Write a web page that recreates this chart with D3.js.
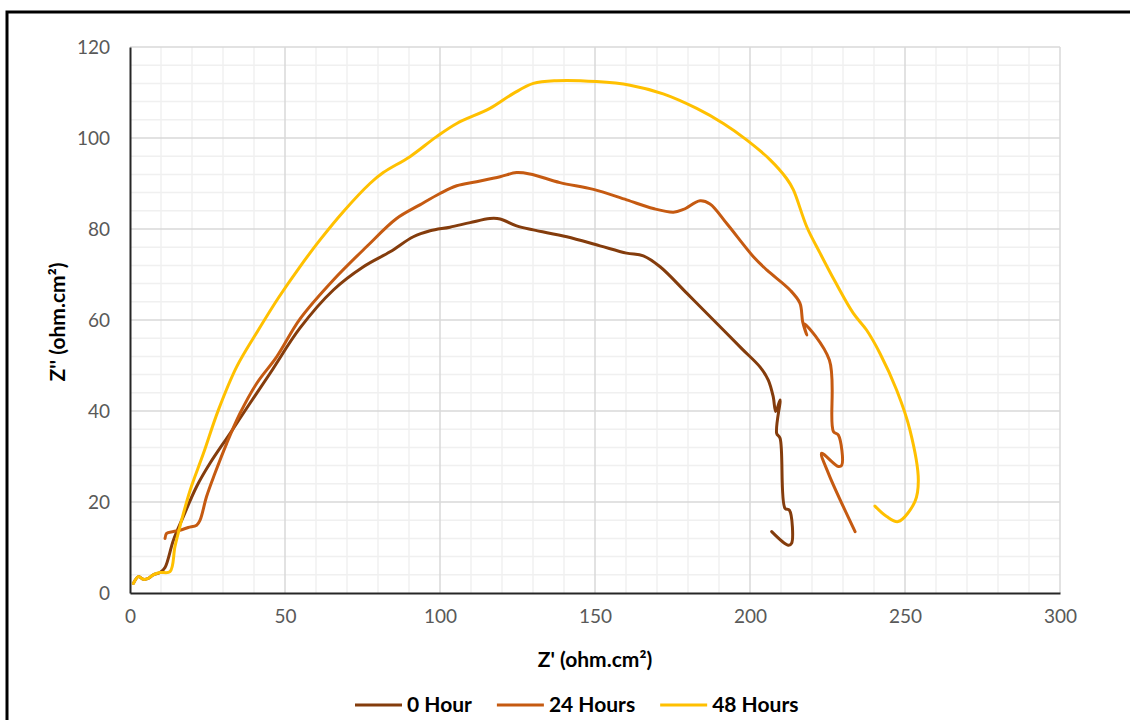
<!DOCTYPE html>
<html>
<head>
<meta charset="utf-8">
<script src="https://cdn.jsdelivr.net/npm/d3@7"></script>
<style>
  html, body { margin: 0; padding: 0; background: #fff; }
  svg { display: block; }
  text { font-family: Lato, "Open Sans", "Liberation Sans", sans-serif; }
</style>
</head>
<body>
<svg id="chart" width="1130" height="720"></svg>
<script>
// Nyquist impedance data: [Z' , Z''] in ohm.cm²
const hour0 = [
  [1.1,2.1],[2.7,3.6],[4.3,3.0],[5.9,3.2],[7.5,4.0],[9.7,4.5],[11.3,5.6],[14,11.6],
  [17.2,16.8],[21.5,23.4],[25.8,28.5],[32.3,35.1],[38.7,41.7],[45.2,48.3],[54.8,58.2],
  [65.6,66.6],[75.3,71.7],[83.9,75.0],[91.4,78.3],[96.8,79.6],[103.2,80.4],[109.7,81.4],
  [116.1,82.3],[119.4,82.2],[124.7,80.7],[130.1,79.8],[140.9,78.3],[151.6,76.3],
  [160.2,74.7],[165.6,74.1],[171,71.7],[179.6,65.9],[188.2,60],[197.5,53.6],[203.2,49.7],
  [205.9,46.8],[207.5,43.1],[208.3,39.9],[209.7,42.4],[208.6,35.1],[209.7,34.0],
  [211.3,18.6],[212.7,18.2],[213.4,10.9],[212.4,10.5],[207,13.5]
];
const hour24 = [
  [11.3,12.0],[11.8,13.1],[14,13.5],[16.1,13.8],[18.8,14.4],[21.5,14.9],[22.6,16.0],
  [24.7,21.2],[27.4,26.3],[31.2,32.9],[35.5,39.5],[40.9,46.1],[47.3,51.9],[54.8,60.2],
  [65.6,68.8],[76.3,76.1],[86,82.3],[93.5,85.3],[100,87.8],[105.4,89.5],[111.8,90.4],
  [119.4,91.5],[124.7,92.4],[129,92.1],[138.7,90.2],[149.5,88.7],[160.2,86.4],
  [168.8,84.5],[175.3,83.7],[178.5,84.3],[183.9,86.2],[187.1,85.5],[192.5,81.2],
  [201.1,73.9],[205.4,71.0],[212.9,66.6],[216.1,63.7],[217.0,59.6],[218.3,56.7],
  [217.4,59.2],[225.6,51.2],[226.9,35.5],[228.5,34.7],[229.6,28.1],[228.5,27.8],
  [223.1,30.7],[225.3,26.3],[233.9,13.5]
];
const hour48 = [
  [1.1,2.1],[2.7,3.6],[4.3,3.0],[5.9,3.2],[7.5,4.0],[9.7,4.5],[12.9,4.7],[14.5,10.2],
  [16.1,14.6],[19.4,22.6],[23.7,30.7],[28.5,40.2],[34.4,49.7],[41.4,57.8],[48,65],
  [54.8,71.7],[61.3,77.6],[68.8,83.8],[77.4,90.0],[81.7,92.4],[90.3,95.9],[98.9,100.3],
  [105.4,103.2],[116.1,106.5],[123.7,109.8],[130.1,112.0],[137.6,112.6],[150.5,112.4],
  [161.3,111.6],[172,109.7],[182.8,106.5],[191.4,103.2],[198.9,99.6],[206.5,95.2],
  [211.8,91.1],[214,88.6],[218.3,80.5],[222.6,74.7],[227.4,68.5],[233.3,61.5],
  [237.6,57.8],[241.9,52.7],[247.3,44.6],[251.6,35.8],[254.3,24.8],[253.2,20.1],
  [247.8,15.7],[244.1,16.8],[240.3,19.1]
];

const seriesNames = ["0 Hour", "24 Hours", "48 Hours"];
const seriesColors = ["#843C0C", "#C55A11", "#FFC000"];
const seriesData = [hour0, hour24, hour48];

const xTicks = [0, 50, 100, 150, 200, 250, 300];
const yTicks = [0, 20, 40, 60, 80, 100, 120];
const xTitle = "Z' (ohm.cm²)";
const yTitle = "Z'' (ohm.cm²)";

const svg = d3.select("#chart");
const plot = { left: 130, right: 1060, top: 47, bottom: 593 };

const x = d3.scaleLinear().domain([0, 300]).range([plot.left, plot.right]);
const y = d3.scaleLinear().domain([0, 120]).range([plot.bottom, plot.top]);

// outer chart frame
svg.append("rect")
  .attr("x", 7).attr("y", 12).attr("width", 1140).attr("height", 730)
  .attr("fill", "none").attr("stroke", "#000").attr("stroke-width", 3);

// minor gridlines
const grid = svg.append("g");
grid.selectAll("line.mx").data(d3.range(10, 300, 10).filter(v => v % 50 !== 0))
  .join("line")
  .attr("x1", d => x(d)).attr("x2", d => x(d))
  .attr("y1", plot.top).attr("y2", plot.bottom)
  .attr("stroke", "#f0f0f0").attr("stroke-width", 1.5);
grid.selectAll("line.my").data(d3.range(4, 120, 4).filter(v => v % 20 !== 0))
  .join("line")
  .attr("x1", plot.left).attr("x2", plot.right)
  .attr("y1", d => y(d)).attr("y2", d => y(d))
  .attr("stroke", "#f0f0f0").attr("stroke-width", 1.5);

// major gridlines
grid.append("g").selectAll("line").data(xTicks.slice(1))
  .join("line")
  .attr("x1", d => x(d)).attr("x2", d => x(d))
  .attr("y1", plot.top).attr("y2", plot.bottom)
  .attr("stroke", "#d9d9d9").attr("stroke-width", 1.5);
grid.append("g").selectAll("line").data(yTicks.slice(1))
  .join("line")
  .attr("x1", plot.left).attr("x2", plot.right)
  .attr("y1", d => y(d)).attr("y2", d => y(d))
  .attr("stroke", "#d9d9d9").attr("stroke-width", 1.5);

// axes
const xAxis = svg.append("g")
  .attr("transform", `translate(0,${plot.bottom})`)
  .call(d3.axisBottom(x).tickValues(xTicks).tickSize(0).tickPadding(17));
const yAxis = svg.append("g")
  .attr("transform", `translate(${plot.left},0)`)
  .call(d3.axisLeft(y).tickValues(yTicks).tickSize(0).tickPadding(20));
[xAxis, yAxis].forEach(a => {
  a.select(".domain").attr("stroke", "#262626").attr("stroke-width", 2);
  a.selectAll("text")
    .attr("fill", "#595959")
    .style("font-family", "Lato, 'Open Sans', sans-serif")
    .style("font-size", "19px");
});

// curves
const line = d3.line()
  .x(d => x(d[0])).y(d => y(d[1]))
  .curve(d3.curveCatmullRom.alpha(0.5));

svg.append("g").selectAll("path").data(seriesData)
  .join("path")
  .attr("d", d => line(d))
  .attr("fill", "none")
  .attr("stroke", (d, i) => seriesColors[i])
  .attr("stroke-width", 3)
  .attr("stroke-linejoin", "round")
  .attr("stroke-linecap", "round");

// axis titles
svg.append("text")
  .attr("x", (plot.left + plot.right) / 2).attr("y", 667)
  .attr("text-anchor", "middle")
  .style("font-size", "21px").style("font-weight", "bold").attr("fill", "#000")
  .text(xTitle);
svg.append("text")
  .attr("transform", `translate(65,${(plot.top + plot.bottom) / 2 + 2}) rotate(-90)`)
  .attr("text-anchor", "middle")
  .style("font-size", "21px").style("font-weight", "bold").attr("fill", "#000")
  .text(yTitle);

// legend
const legend = svg.append("g");
let lx = 355;
seriesNames.forEach((name, i) => {
  legend.append("line")
    .attr("x1", lx).attr("x2", lx + 47)
    .attr("y1", 705).attr("y2", 705)
    .attr("stroke", seriesColors[i]).attr("stroke-width", 3);
  const t = legend.append("text")
    .attr("x", lx + 52).attr("y", 712)
    .style("font-size", "21px").style("font-weight", "bold").attr("fill", "#000")
    .text(name);
  lx += 52 + t.node().getComputedTextLength() + 25;
});
</script>
</body>
</html>
